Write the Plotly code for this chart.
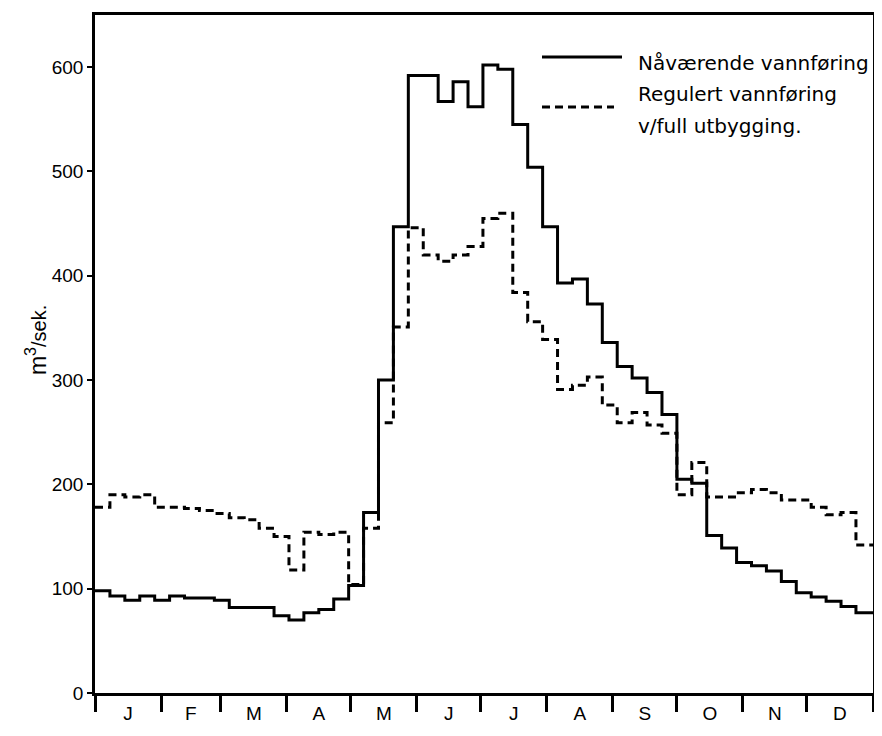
import plotly.graph_objects as go

# ---- data (weekly mean flow, m3/s) ----
month_labels = ["J", "F", "M", "A", "M", "J", "J", "A", "S", "O", "N", "D"]
month_days = [31, 28, 31, 30, 31, 30, 31, 31, 30, 31, 30, 31]

naavaerende = [98, 93, 89, 93, 89, 93, 91, 91, 89, 82, 82, 82,
               74, 70, 77, 80, 90, 103, 173, 300, 447, 592, 592, 567,
               586, 562, 602, 598, 545, 504, 447, 393, 397, 373, 336, 313,
               302, 288, 267, 205, 201, 151, 139, 125, 122, 117, 107, 96,
               92, 88, 83, 77]

regulert = [178, 190, 188, 190, 178, 178, 177, 175, 172, 168, 166, 158,
            150, 118, 154, 152, 154, 104, 158, 259, 351, 446, 420, 414,
            420, 428, 455, 460, 384, 356, 339, 291, 295, 303, 276, 259,
            269, 257, 249, 190, 221, 188, 188, 192, 195, 192, 185, 185,
            178, 171, 173, 142]

y_ticks = [0, 100, 200, 300, 400, 500, 600]

# ---- derived x positions (days of year) ----
n_weeks = len(naavaerende)
x_days = [7 * i for i in range(n_weeks)] + [365]
y_now = naavaerende + [naavaerende[-1]]
y_reg = regulert + [regulert[-1]]

bounds = [0]
for d in month_days:
    bounds.append(bounds[-1] + d)
centers = [(bounds[i] + bounds[i + 1]) / 2 for i in range(12)]

FONT = "DejaVu Sans, Arial, sans-serif"
TICKFONT = "Liberation Sans, Arial, sans-serif"

fig = go.Figure()
fig.add_trace(go.Scatter(x=x_days, y=y_reg, mode="lines", line_shape="hv",
                         line=dict(color="black", width=3, dash="8px,5px"),
                         name="Regulert vannføring v/full utbygging.",
                         showlegend=False))
fig.add_trace(go.Scatter(x=x_days, y=y_now, mode="lines", line_shape="hv",
                         line=dict(color="black", width=3),
                         name="Nåværende vannføring", showlegend=False))

# page body has an 8px default margin, so the figure is 8px smaller
fig.update_layout(
    width=874, height=728,
    margin=dict(l=87, r=9, t=7, b=43, autoexpand=False),
    paper_bgcolor="white", plot_bgcolor="white",
    font=dict(family=FONT, color="black", size=18),
    xaxis=dict(range=[0, 365], showgrid=False, zeroline=False, automargin=False,
               showline=True, linecolor="black", linewidth=2.5, mirror=True,
               tickmode="array", tickvals=centers, ticktext=month_labels,
               ticks="", ticklabelstandoff=1,
               tickfont=dict(size=19, family=TICKFONT),
               minor=dict(tickmode="array", tickvals=bounds, ticks="outside",
                          ticklen=16, tickwidth=3, tickcolor="black",
                          showgrid=False)),
    yaxis=dict(range=[0, 650], showgrid=False, zeroline=False, automargin=False,
               showline=True, linecolor="black", linewidth=2.5, mirror=True,
               tickmode="array", tickvals=y_ticks,
               ticks="outside", ticklen=5, tickwidth=2, tickcolor="black",
               tickfont=dict(size=19, family=TICKFONT)),
)

# axis title
fig.add_annotation(xref="paper", yref="paper", x=-0.075, y=0.52,
                   text="m<sup>3</sup><span style='font-size:20px'>/sek.</span>",
                   textangle=-90, showarrow=False, xanchor="center",
                   yanchor="middle", font=dict(size=23, family=TICKFONT))

# legend (manual); positions given in screen pixels of the plot area
def px_x(p):
    return (p - 95) / 778.0

def px_y(p):
    return (693 - p) / 678.0

fig.add_shape(type="line", xref="paper", yref="paper",
              x0=px_x(542), x1=px_x(622), y0=px_y(57), y1=px_y(57),
              line=dict(color="black", width=3))
fig.add_shape(type="line", xref="paper", yref="paper",
              x0=px_x(542), x1=px_x(614), y0=px_y(107), y1=px_y(107),
              line=dict(color="black", width=3, dash="8px,5px"))
for txt, yc in [("Nåværende vannføring", 63),
                ("Regulert vannføring", 94),
                ("v/full utbygging.", 126)]:
    fig.add_annotation(xref="paper", yref="paper", x=px_x(636), y=px_y(yc),
                       text=txt, showarrow=False, xanchor="left",
                       yanchor="middle", font=dict(size=20))

fig.write_html("out.html")
